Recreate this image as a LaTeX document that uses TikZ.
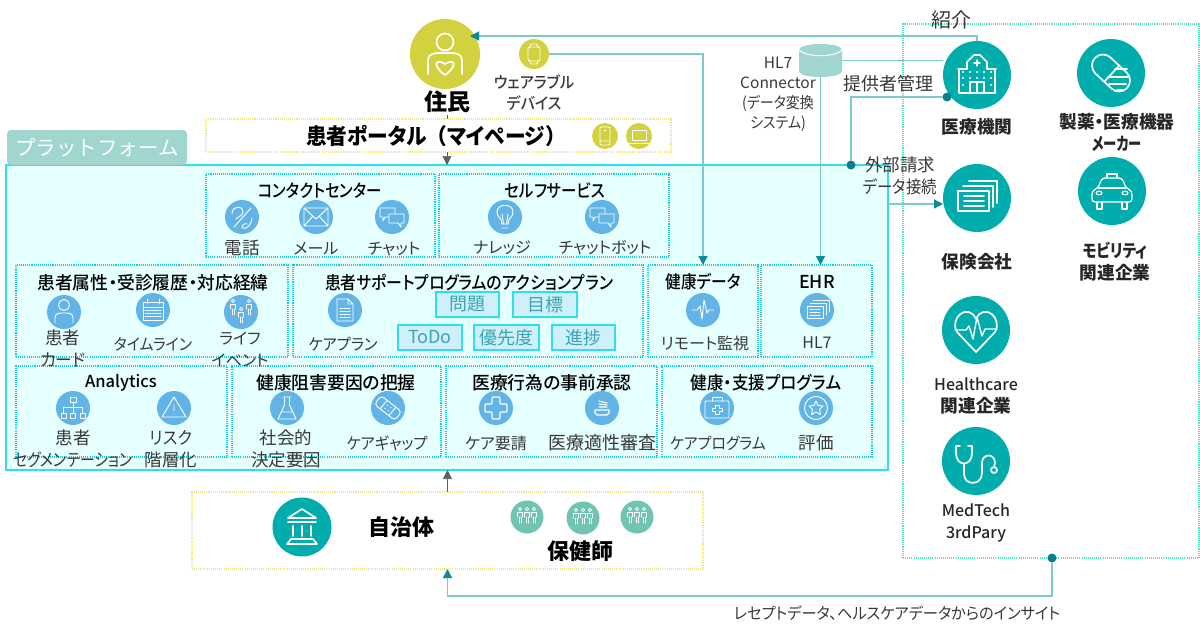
\documentclass[tikz,border=0pt]{standalone}
\usepackage{fontspec}
\setmainfont[RawFeature=+palt]{Noto Sans CJK JP}
\newfontfamily\fulljp{Noto Sans CJK JP}
\newfontfamily\mediumjp[RawFeature=+palt]{Noto Sans CJK JP Medium}
\usetikzlibrary{arrows.meta}
\definecolor{platformfill}{HTML}{E6FFFF}
\definecolor{platformline}{HTML}{2EE0EE}
\definecolor{panelline}{HTML}{19CBDD}
\definecolor{discblue}{HTML}{63B4E6}
\definecolor{discteal}{HTML}{00ADAC}
\definecolor{discolive}{HTML}{D2D240}
\definecolor{discmint}{HTML}{72C4B2}
\definecolor{tagteal}{HTML}{A0D5D0}
\definecolor{portalline}{HTML}{EEE68C}
\definecolor{partnerline}{HTML}{50E8C0}
\definecolor{linkteal}{HTML}{7CCAD0}
\definecolor{tipteal}{HTML}{0B8A98}
\definecolor{dotteal}{HTML}{0B7E8C}
\definecolor{stubgray}{HTML}{606060}
\definecolor{labelgray}{HTML}{383838}
\definecolor{actionfill}{HTML}{CFEFFB}
\definecolor{actiontext}{HTML}{3AA5B5}
\newcommand{\labelsize}{\fontsize{16}{18}\selectfont}
\newcommand{\kanjisize}{\fontsize{17.5}{22}\selectfont}
\newcommand{\titlesize}{\mediumjp\fontsize{17.8}{19}\selectfont}
\newcommand{\headsize}{\fontsize{22}{24}\selectfont\bfseries}
\newcommand{\partnersize}{\fontsize{17.7}{22}\selectfont\bfseries}
\newcommand{\latinsize}{\mediumjp\mdseries\fontsize{16}{22}\selectfont}
\newcommand{\narrowed}[2]{\scalebox{#1}[1]{#2}}
\tikzstyle{panel}=[draw=panelline, line width=1.05pt, dash pattern=on 1.05pt off 1.05pt, inner sep=0, outer sep=0, minimum height=92]
\tikzstyle{actionbox}=[draw=platformline, fill=actionfill, line width=1.2pt, inner sep=0, minimum height=25, text=actiontext, font=\fontsize{18}{20}\selectfont]
\tikzstyle{bluedisc}=[circle, fill=discblue, inner sep=0, outer sep=0, minimum size=34]
\tikzstyle{tealdisc}=[circle, fill=discteal, inner sep=0, outer sep=0, minimum size=68]
\tikzstyle{olivedisc}=[circle, fill=discolive, inner sep=0, outer sep=0, minimum size=30]
\tikzstyle{mintdisc}=[circle, fill=discmint, inner sep=0, outer sep=0, minimum size=33]
\tikzstyle{itemlabel}=[inner sep=0, text=labelgray, font=\labelsize, align=center]
\tikzstyle{kanjilabel}=[itemlabel, font=\kanjisize]
\tikzstyle{paneltitle}=[inner sep=0, text=black, font=\titlesize]
\tikzstyle{headtitle}=[inner sep=0, text=black, font=\headsize]
\tikzstyle{partnerlabel}=[inner sep=0, text=black!85, font=\partnersize, align=center]
\tikzstyle{notelabel}=[inner sep=0, text=labelgray, font=\fontsize{17.5}{21.5}\selectfont, align=center]
\tikzstyle{link}=[draw=linkteal, line width=1.2pt]
\tikzstyle{linkarrow}=[link, -{Triangle[length=9pt, width=9pt, color=tipteal]}]
\tikzstyle{stub}=[draw=stubgray, line width=0.6pt]
\tikzstyle{stubarrow}=[stub, -{Triangle[length=9pt, width=9pt, color=stubgray]}]
\tikzstyle{linkdot}=[circle, fill=dotteal, inner sep=0, outer sep=0, minimum size=9]
\tikzstyle{glyph}=[draw=white, line width=0.9pt, line cap=round, line join=round]
\tikzstyle{bigglyph}=[draw=white, line width=1.7pt, line cap=round, line join=round]
% one standing person of the small glyphs
\newcommand{\tinyfigure}[2]{
    \draw[glyph, line width=0.7pt] (#1, #2) circle (1.6);
    \draw[glyph, line width=0.7pt] (#1-2.4, #2+8) -- (#1-2.4, #2+3.2) -- (#1+2.4, #2+3.2) -- (#1+2.4, #2+8) (#1-1, #2+8) -- (#1-1, #2+14) (#1+1, #2+8) -- (#1+1, #2+14);
}
\tikzset{
    pics/phoneglyph/.style={code={
        \draw[glyph] (-8, 10) -- (9, -9);
        \draw[glyph] (-10, -3) .. controls (-10, -12) and (1, -12) .. (1, -5) .. controls (1, -2) and (-4, 0) .. (-6, 2);
        \draw[glyph] (10, 1) .. controls (10, 7) and (5, 13) .. (0, 11) .. controls (0, 8) and (2, 6) .. (5, 7);
    }},
    pics/mailglyph/.style={code={
        \draw[glyph] (-12, -9) rectangle (12, 9) (-12, -9) -- (0, 2) -- (12, -9) (-12, 9) -- (-3, -1) (12, 9) -- (3, -1);
    }},
    pics/chatglyph/.style={code={
        \draw[glyph] (-3, 0) -- (-7, 0) -- (-9, 4) -- (-9, 0) -- (-12, 0) -- (-12, -9) -- (3, -9) -- (3, -3);
        \draw[glyph] (-3, -3) -- (12, -3) -- (12, 6) -- (9, 6) -- (9, 10) -- (6, 6) -- (-3, 6) -- cycle;
    }},
    pics/bulbglyph/.style={code={
        \draw[glyph] (-3.5, 7) -- (-3.5, 4) .. controls (-4, 1) and (-8, 0) .. (-8, -5) .. controls (-8, -14) and (8, -14) .. (8, -5) .. controls (8, 0) and (4, 1) .. (3.5, 4) -- (3.5, 7) -- cycle;
        \draw[glyph] (-3, 11) -- (3, 11) (-1.5, 7) -- (-3, -3) (1.5, 7) -- (3, -3);
    }},
    pics/personglyph/.style={code={
        \draw[glyph] (0, -7) circle (5.5);
        \draw[glyph] (-9, 11) -- (-9, 6) .. controls (-9, 1) and (-5, 1) .. (0, 1) .. controls (5, 1) and (9, 1) .. (9, 6) -- (9, 11);
    }},
    pics/calendarglyph/.style={code={
        \draw[glyph] (-10, -8) rectangle (10, 10) (-10, -3) -- (10, -3) (-6, -11) -- (-6, -6) (6, -11) -- (6, -6);
        \foreach \gridy in {0, 3, 6}
            \draw[glyph, line width=0.8pt, dash pattern=on 1.5pt off 1pt] (-8, \gridy) -- (8, \gridy);
    }},
    pics/familyglyph/.style={code={
        \tinyfigure{-8}{-11}
        \tinyfigure{0}{-3}
        \tinyfigure{8}{-11}
    }},
    pics/documentglyph/.style={code={
        \draw[glyph] (-8, -11) -- (3, -11) -- (8, -6) -- (8, 11) -- (-8, 11) -- cycle (3, -11) -- (3, -6) -- (8, -6);
        \foreach \liney in {-2, 1, 4, 7}
            \draw[glyph] (-5, \liney) -- (5, \liney);
    }},
    pics/pulseglyph/.style={code={
        \draw[glyph] (-11, 0) -- (-6, 0) -- (-3, -4) -- (-1, 9) -- (1, -10) -- (4, 3) -- (6, 0) -- (11, 0);
    }},
    pics/stackglyph/.style={code={
        \draw[glyph] (-10, -4) rectangle (6, 8);
        \draw[glyph] (-7, -7) -- (9, -7) -- (9, 5) (-4, -10) -- (12, -10) -- (12, 2);
        \draw[glyph] (-7, -1) -- (3, -1) (-7, 2) -- (3, 2) (-7, 5) -- (3, 5);
    }},
    pics/hierarchyglyph/.style={code={
        \draw[glyph] (-3, -11) rectangle (3, -6) (-12, 5) rectangle (-7, 10) (-2.5, 5) rectangle (2.5, 10) (7, 5) rectangle (12, 10);
        \draw[glyph] (0, -6) -- (0, 5) (-9.5, 5) -- (-9.5, -1) -- (9.5, -1) -- (9.5, 5);
    }},
    pics/riskglyph/.style={code={
        \draw[glyph] (0, -11) -- (12, 9) -- (-12, 9) -- cycle (0, -3) -- (0, 3) (0, 6) -- (0, 6.2);
    }},
    pics/flaskglyph/.style={code={
        \draw[glyph] (-4, -11) -- (4, -11) (-2.5, -11) -- (-2.5, -3) -- (-9, 11) -- (9, 11) -- (2.5, -3) -- (2.5, -11) (-5.5, 4) -- (5.5, 4);
    }},
    pics/bandageglyph/.style={code={
        \begin{scope}[rotate=-38]
            \draw[glyph, rounded corners=3.5] (-13, -5.5) rectangle (13, 5.5);
            \draw[glyph] (-5.5, -5.5) -- (-5.5, 5.5) (5.5, -5.5) -- (5.5, 5.5);
            \foreach \bandx in {-2, 2} \foreach \bandy in {-2, 2}
                \fill[white] (\bandx, \bandy) circle (0.8);
        \end{scope}
    }},
    pics/crossglyph/.style={code={
        \draw[glyph, line width=1.2pt, rounded corners=1] (-4, -11) -- (4, -11) -- (4, -4) -- (11, -4) -- (11, 4) -- (4, 4) -- (4, 11) -- (-4, 11) -- (-4, 4) -- (-11, 4) -- (-11, -4) -- (-4, -4) -- cycle;
    }},
    pics/reviewglyph/.style={code={
        \draw[glyph, line width=1.1pt] (-7, 2) -- (7, 2) -- (7, 5) -- (5, 7) -- (-5, 7) -- (-7, 5) -- cycle;
        \draw[glyph, line width=1.1pt] (-3, -1) -- (5, -1) (-3, -4) -- (5, -3) (-3, -7) -- (5, -5);
    }},
    pics/kitglyph/.style={code={
        \draw[glyph, rounded corners=1] (-12, -7) rectangle (12, 10);
        \draw[glyph] (-5, -7) -- (-5, -11) -- (5, -11) -- (5, -7);
        \draw[glyph] (-2, -3) -- (2, -3) -- (2, 0) -- (5, 0) -- (5, 3) -- (2, 3) -- (2, 6) -- (-2, 6) -- (-2, 3) -- (-5, 3) -- (-5, 0) -- (-2, 0) -- cycle;
    }},
    pics/starglyph/.style={code={
        \draw[glyph] (0, 0) circle (11.5);
        \draw[glyph] (0, -7) -- (2, -2.5) -- (7, -2) -- (3.5, 1.5) -- (4.5, 6.5) -- (0, 4) -- (-4.5, 6.5) -- (-3.5, 1.5) -- (-7, -2) -- (-2, -2.5) -- cycle;
    }},
    pics/watchglyph/.style={code={
        \draw[glyph, rounded corners=2] (-6, -7) rectangle (6, 7);
        \draw[glyph] (-4, -7) -- (-3, -10) -- (3, -10) -- (4, -7) (-4, 7) -- (-3, 10) -- (3, 10) -- (4, 7);
    }},
    pics/handsetglyph/.style={code={
        \draw[glyph, rounded corners=1] (-5, -9) rectangle (5, 9) (-5, 5) -- (5, 5);
        \draw[glyph] (-1, -6) -- (1, -6);
    }},
    pics/laptopglyph/.style={code={
        \draw[glyph] (-7, -6) rectangle (7, 4) (-10, 7) -- (10, 7);
    }},
    pics/residentglyph/.style={code={
        \draw[bigglyph] (0, -12) circle (8.5);
        \draw[bigglyph] (-17, 20) -- (-17, 6) .. controls (-17, 0) and (-11, -1) .. (-6, -1) -- (6, -1) .. controls (11, -1) and (17, 0) .. (17, 6) -- (17, 20);
        \draw[bigglyph] (0, 21) .. controls (-14, 11) and (-9, 4) .. (0, 10) .. controls (9, 4) and (14, 11) .. (0, 21);
    }},
    pics/hospitalglyph/.style={code={
        \draw[bigglyph] (-18, 18) -- (-18, -6) -- (-10, -6) -- (-10, -13) -- (-3, -20) -- (3, -20) -- (10, -13) -- (10, -6) -- (18, -6) -- (18, 18) -- cycle;
        \draw[bigglyph] (-19, -6) -- (-10, -6) (10, -6) -- (19, -6);
        \draw[bigglyph, line width=1.4pt] (-3, -12) -- (3, -12) (0, -15) -- (0, -9);
        \draw[bigglyph] (-7, 18) -- (-7, 7) -- (7, 7) -- (7, 18) (0, 7) -- (0, 18);
        \foreach \winx in {-14, -7, 0, 7, 14}
            \fill[white] (\winx, -3) circle (1.2) (\winx, 3) circle (1.2);
        \foreach \winx in {-14, 14}
            \fill[white] (\winx, 10) circle (1.2);
    }},
    pics/pillglyph/.style={code={
        \begin{scope}[rotate=-43]
            \draw[bigglyph, rounded corners=11] (-22, -11) rectangle (22, 11);
            \draw[bigglyph] (1, -11) -- (1, 11);
        \end{scope}
        \draw[bigglyph] (4, -4) -- (16, -4) (-3, 4) -- (17, 4) (-2, 11) -- (15, 11) (6, 17) -- (12, 17);
    }},
    pics/carglyph/.style={code={
        \draw[bigglyph, line width=1.2pt, rounded corners=3] (-20, 11) -- (-20, 0) -- (-14, -3) -- (-10, -13) -- (10, -13) -- (14, -3) -- (20, 0) -- (20, 11) -- cycle;
        \draw[bigglyph, line width=1.2pt] (-14, -3) -- (14, -3) (-5, -13) -- (-5, -17) -- (5, -17) -- (5, -13);
        \draw[bigglyph, line width=1.2pt] (-15, 11) -- (-15, 18) -- (-10, 18) -- (-10, 11) (10, 11) -- (10, 18) -- (15, 18) -- (15, 11);
        \draw[bigglyph, line width=1.2pt] (-13, 2) ellipse (3 and 1.8) (13, 2) ellipse (3 and 1.8);
    }},
    pics/insuranceglyph/.style={code={
        \draw[bigglyph] (-19, -7) rectangle (12, 13);
        \draw[bigglyph] (-14, -12) -- (16, -12) -- (16, 9) (-8, -17) -- (20, -17) -- (20, 5);
        \draw[bigglyph] (-13, -2) -- (7, -2) (-13, 3) -- (7, 3) (-13, 8) -- (7, 8);
    }},
    pics/heartglyph/.style={code={
        \draw[bigglyph] (0, 22) -- (-19, 2) .. controls (-27, -12) and (-8, -28) .. (0, -11) .. controls (8, -28) and (27, -12) .. (19, 2) -- cycle;
        \draw[bigglyph, line width=1.4pt] (-21, 0) -- (-10, 0) -- (-7, -4) -- (-3, 9) -- (1, -13) -- (6, 6) -- (9, -1) -- (21, -1);
    }},
    pics/stethoscopeglyph/.style={code={
        \draw[bigglyph] (-16, -15) -- (-20, -15) -- (-20, -8) .. controls (-20, 6) and (-4, 6) .. (-4, -8) -- (-4, -15) -- (-8, -15);
        \draw[bigglyph] (-12, 3) -- (-12, 13) .. controls (-12, 25) and (6, 25) .. (6, 12) -- (6, 2) .. controls (6, -8) and (19, -8) .. (19, 2) -- (18, 6);
        \draw[bigglyph] (18, 9) circle (3);
    }},
    pics/bankglyph/.style={code={
        \draw[bigglyph] (0, -18) -- (-14, -9) -- (14, -9) -- cycle;
        \draw[bigglyph] (-14, -5) -- (14, -5) (-9, -1) -- (-9, 9) (0, -1) -- (0, 9) (9, -1) -- (9, 9);
        \draw[bigglyph] (-11, 12) -- (11, 12) -- (15, 17) -- (-15, 17) -- cycle;
    }},
    pics/crowdglyph/.style={code={
        \tinyfigure{-7}{-8}
        \tinyfigure{0}{-8}
        \tinyfigure{7}{-8}
    }},
}
\begin{document}
\begin{tikzpicture}[x=1pt, y=-1pt]
        \useasboundingbox (0, 0) rectangle (1200, 635);
        % frames
        \node[draw=platformline, fill=platformfill, line width=1.6pt, inner sep=0, outer sep=0, minimum width=882, minimum height=305] (platform) at (447, 317.5) {};
        \node[fill=tagteal, rounded corners=4pt, inner sep=0, minimum width=180, minimum height=35, text=white, font=\fulljp\fontsize{20.5}{22}\selectfont] (platformtag) at (97, 147.5) {プラットフォーム};
        \node[panel, draw=portalline, minimum width=465, minimum height=33] (portal) at (438.5, 135.5) {};
        \node[panel, draw=portalline, minimum width=511, minimum height=77] (municipal) at (447.5, 530.5) {};
        \node[panel, draw=partnerline, minimum width=296, minimum height=534] (partners) at (1051, 291) {};
        \node[panel, minimum width=229, minimum height=83] (contactpanel) at (320.5, 215.5) {};
        \node[panel, minimum width=230, minimum height=83] (selfpanel) at (554, 215.5) {};
        \node[panel, minimum width=272] (attrpanel) at (152, 311) {};
        \node[panel, minimum width=350] (supportpanel) at (468, 311) {};
        \node[panel, minimum width=110] (healthpanel) at (703, 311) {};
        \node[panel, minimum width=111] (ehrpanel) at (816.5, 311) {};
        \node[panel, minimum width=211, minimum height=91] (analyticspanel) at (121.5, 411.5) {};
        \node[panel, minimum width=209, minimum height=91] (barrierpanel) at (336.5, 411.5) {};
        \node[panel, minimum width=211, minimum height=91] (priorpanel) at (551.5, 411.5) {};
        \node[panel, minimum width=210, minimum height=91] (programpanel) at (767, 411.5) {};
        % residents and portal
        \node[circle, fill=discolive, inner sep=0, minimum size=70] (resident) at (445, 54) {};
        \pic at (resident) {residentglyph};
        \node[headtitle, font=\fontsize{23}{25}\selectfont\bfseries] (residentname) at (447, 102) {住民};
        \node[olivedisc] (wearable) at (534, 54) {};
        \pic at (wearable) {watchglyph};
        \node[itemlabel, font=\mediumjp\fontsize{16}{21}\selectfont] (wearablename) at (534, 93) {\narrowed{0.94}{ウェアラブル}\\\narrowed{0.94}{デバイス}};
        \node[headtitle] (portalname) at (436, 136) {\narrowed{0.94}{患者ポータル{\fulljp\bfseries（}マイページ{\fulljp\bfseries ）}}};
        \node[olivedisc, minimum size=26] (portalphone) at (605, 136) {};
        \pic at (portalphone) {handsetglyph};
        \node[olivedisc, minimum size=26] (portallaptop) at (639, 136) {};
        \pic at (portallaptop) {laptopglyph};
        % contact centre and self service
        \node[paneltitle] (contacttitle) at (320, 191) {\narrowed{0.86}{コンタクトセンター}};
        \node[bluedisc] (calldisc) at (242, 217) {};
        \pic at (calldisc) {phoneglyph};
        \node[kanjilabel] (calllabel) at (242, 248) {電話};
        \node[bluedisc] (maildisc) at (316, 217) {};
        \pic at (maildisc) {mailglyph};
        \node[itemlabel] (maillabel) at (316, 249) {メール};
        \node[bluedisc] (chatdisc) at (392, 217) {};
        \pic at (chatdisc) {chatglyph};
        \node[itemlabel] (chatlabel) at (394, 249) {チャット};
        \node[paneltitle] (selftitle) at (555, 191) {\narrowed{0.87}{セルフサービス}};
        \node[bluedisc] (knowledgedisc) at (505, 217) {};
        \pic at (knowledgedisc) {bulbglyph};
        \node[itemlabel] (knowledgelabel) at (502, 248) {ナレッジ};
        \node[bluedisc] (botdisc) at (602, 217) {};
        \pic at (botdisc) {chatglyph};
        \node[itemlabel] (botlabel) at (605, 248) {チャットボット};
        % patient attributes
        \node[paneltitle] (attrtitle) at (153, 283) {患者属性・受診履歴・対応経緯};
        \node[bluedisc] (carddisc) at (64, 312) {};
        \pic at (carddisc) {personglyph};
        \node[kanjilabel] (cardlabel) at (63, 349) {患者\\\narrowed{0.95}{カード}};
        \node[bluedisc] (timelinedisc) at (153, 310) {};
        \pic at (timelinedisc) {calendarglyph};
        \node[itemlabel] (timelinelabel) at (153, 344) {\narrowed{0.93}{タイムライン}};
        \node[bluedisc] (lifedisc) at (241, 312) {};
        \pic at (lifedisc) {familyglyph};
        \node[itemlabel, font=\fontsize{16}{22}\selectfont] (lifelabel) at (240, 349) {ライフ\\イベント};
        % action plan
        \node[paneltitle] (supporttitle) at (469, 283) {\narrowed{0.89}{患者サポートプログラムのアクションプラン}};
        \node[bluedisc] (plandisc) at (345, 310) {};
        \pic at (plandisc) {documentglyph};
        \node[itemlabel] (planlabel) at (343, 344) {\narrowed{0.95}{ケアプラン}};
        \node[actionbox, minimum width=63] (problembox) at (467.5, 304.5) {問題};
        \node[actionbox, minimum width=64] (goalbox) at (545, 304.5) {目標};
        \node[actionbox, minimum width=64] (todobox) at (430, 337.5) {ToDo};
        \node[actionbox, minimum width=65] (prioritybox) at (506.5, 337.5) {優先度};
        \node[actionbox, minimum width=63] (progressbox) at (583.5, 337.5) {進捗};
        % health data and EHR
        \node[paneltitle] (healthtitle) at (703, 282) {\narrowed{0.88}{健康データ}};
        \node[bluedisc] (remotedisc) at (703, 310) {};
        \pic at (remotedisc) {pulseglyph};
        \node[itemlabel] (remotelabel) at (705, 343) {リモート監視};
        \node[paneltitle] (ehrtitle) at (817, 282) {EHR};
        \node[bluedisc] (hlsevendisc) at (817, 310) {};
        \pic at (hlsevendisc) {stackglyph};
        \node[itemlabel] (hlsevenlabel) at (817, 343) {HL7};
        % analytics
        \node[paneltitle, font=\mediumjp\fontsize{16.5}{19}\selectfont] (analyticstitle) at (121, 383) {Analytics};
        \node[bluedisc] (segmentdisc) at (73, 408) {};
        \pic at (segmentdisc) {hierarchyglyph};
        \node[kanjilabel] (segmentlabel) at (73, 449) {患者\\\narrowed{0.85}{セグメンテーション}};
        \node[bluedisc] (riskdisc) at (174, 408) {};
        \pic at (riskdisc) {riskglyph};
        \node[kanjilabel] (risklabel) at (171, 449) {\narrowed{0.92}{リスク}\\階層化};
        % barriers
        \node[paneltitle] (barriertitle) at (336, 383) {健康阻害要因の把握};
        \node[bluedisc] (socialdisc) at (287, 408) {};
        \pic at (socialdisc) {flaskglyph};
        \node[kanjilabel] (sociallabel) at (286, 449) {社会的\\決定要因};
        \node[bluedisc] (gapdisc) at (388, 408) {};
        \pic at (gapdisc) {bandageglyph};
        \node[itemlabel] (gaplabel) at (387, 443) {\narrowed{0.95}{ケアギャップ}};
        % prior approval
        \node[paneltitle] (priortitle) at (552, 383) {医療行為の事前承認};
        \node[bluedisc] (requestdisc) at (496, 408) {};
        \pic at (requestdisc) {crossglyph};
        \node[itemlabel] (requestlabel) at (496, 443) {ケア要請};
        \node[bluedisc] (reviewdisc) at (602, 408) {};
        \pic at (reviewdisc) {reviewglyph};
        \node[kanjilabel, font=\fontsize{18}{20}\selectfont] (reviewlabel) at (602, 443) {医療適性審査};
        % support programmes
        \node[paneltitle] (programtitle) at (766, 383) {\narrowed{0.93}{健康・支援プログラム}};
        \node[bluedisc] (kitdisc) at (717, 408) {};
        \pic at (kitdisc) {kitglyph};
        \node[itemlabel] (kitlabel) at (718, 443) {\narrowed{0.93}{ケアプログラム}};
        \node[bluedisc] (ratingdisc) at (816, 408) {};
        \pic at (ratingdisc) {starglyph};
        \node[kanjilabel] (ratinglabel) at (816, 443) {評価};
        % municipality
        \node[tealdisc, minimum size=59] (bankdisc) at (302, 527) {};
        \pic at (bankdisc) {bankglyph};
        \node[headtitle] (municipalname) at (401, 527) {自治体};
        \node[mintdisc] (nursedisca) at (527, 517) {};
        \pic at (nursedisca) {crowdglyph};
        \node[mintdisc] (nursediscb) at (583, 518) {};
        \pic at (nursediscb) {crowdglyph};
        \node[mintdisc] (nursediscc) at (637, 517) {};
        \pic at (nursediscc) {crowdglyph};
        \node[headtitle] (nursename) at (580, 551) {保健師};
        % partners
        \node[inner sep=0, text=labelgray, font=\fontsize{20}{22}\selectfont] (referral) at (951, 20) {紹介};
        \node[tealdisc] (hospital) at (977, 75) {};
        \pic at (hospital) {hospitalglyph};
        \node[partnerlabel] (hospitalname) at (977, 127) {医療機関};
        \node[tealdisc] (pharma) at (1111, 73) {};
        \pic at (pharma) {pillglyph};
        \node[partnerlabel] (pharmaname) at (1117, 132) {製薬・医療機器\\\narrowed{0.75}{メーカー}};
        \node[tealdisc] (insurer) at (977, 198) {};
        \pic at (insurer) {insuranceglyph};
        \node[partnerlabel] (insurername) at (977, 262) {保険会社};
        \node[tealdisc] (mobility) at (1112, 191) {};
        \pic at (mobility) {carglyph};
        \node[partnerlabel] (mobilityname) at (1115, 262) {\narrowed{0.83}{モビリティ}\\関連企業};
        \node[tealdisc] (healthcare) at (976, 330) {};
        \pic at (healthcare) {heartglyph};
        \node[partnerlabel] (healthcarename) at (976, 396) {{\latinsize Healthcare}\\関連企業};
        \node[tealdisc] (medtech) at (976, 461) {};
        \pic at (medtech) {stethoscopeglyph};
        \node[partnerlabel, font=\latinsize] (medtechname) at (976, 523) {MedTech\\3rdPary};
        % HL7 connector
        \node[inner sep=0, outer sep=0, minimum width=43, minimum height=33] (connector) at (820.5, 60.5) {};
        \fill[tagteal] (799, 50) .. controls (799, 42) and (842, 42) .. (842, 50) -- (842, 71) .. controls (842, 79) and (799, 79) .. (799, 71) -- cycle;
        \draw[white, line width=1pt] (799, 50) .. controls (806, 57.5) and (835, 57.5) .. (842, 50);
        \node[itemlabel, font=\fontsize{15.5}{18}\selectfont] (connectorname) at (778, 94) {HL7\\[2pt]Connector\\[2pt]\narrowed{0.9}{(データ変換}\\[2pt]\narrowed{0.9}{システム)}};
        \node[notelabel, font=\fontsize{18}{20}\selectfont] (providernote) at (888, 84) {提供者管理};
        \node[notelabel] (claimnote) at (900, 176) {外部請求\\\narrowed{0.88}{データ接続}};
        \node[itemlabel] (insightnote) at (897, 613) {\narrowed{0.95}{レセプトデータ、ヘルスケアデータからのインサイト}};
        % connectors
        \coordinate (residentin) at (470, 36);
        \coordinate (residentout) at (447, 115);
        \coordinate (claimout) at (888, 204);
        \coordinate (insightbend) at (1052, 596);
        \node[linkdot] (hospitaldot) at (947, 97) {};
        \node[linkdot] (platformdot) at (851, 165) {};
        \node[linkdot] (partnersdot) at (1052, 558) {};
        \draw[linkarrow] (hospital.north) |- (residentin);
        \draw[linkarrow] (wearable.east) -| (healthpanel.north);
        \draw[linkarrow] (connector.south) -- (connector.south |- ehrpanel.north);
        \draw[link] (connector.east) -- (connector.east -| hospital.west);
        \draw[link] (hospitaldot.west) -| (platformdot.north);
        \draw[linkarrow] (claimout) -- (claimout -| insurer.west);
        \draw[linkarrow] (partnersdot.south) -- (insightbend) -| (municipal.south);
        \draw[stub] (residentout) -- (residentout |- portal.north);
        \draw[stubarrow] (residentout |- portal.south) -- (residentout |- platform.north);
        \draw[stubarrow] (municipal.north) -- (municipal.north |- platform.south);
    \end{tikzpicture}
\end{document}
